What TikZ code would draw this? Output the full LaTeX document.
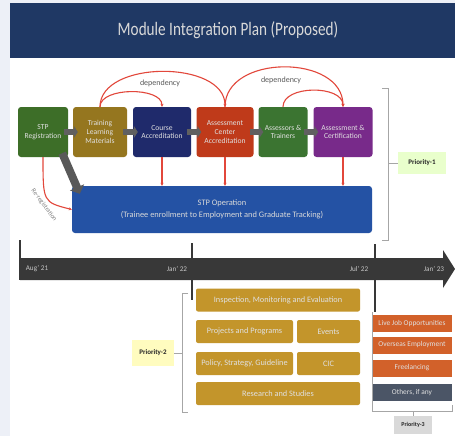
\documentclass[tikz,border=0pt]{standalone}
\usepackage{fontspec}
\setmainfont{Carlito}
\usepackage{tikz}
\usetikzlibrary{arrows.meta}
\definecolor{titleblue}{HTML}{1F3864}
\definecolor{pagebg}{HTML}{EDF0F7}
\definecolor{reggreen}{HTML}{3D6E28}
\definecolor{tlmolive}{HTML}{95761F}
\definecolor{coursenavy}{HTML}{1F2A6B}
\definecolor{accred}{HTML}{BF3A1A}
\definecolor{trgreen}{HTML}{3B7431}
\definecolor{certpurple}{HTML}{782A8A}
\definecolor{opsblue}{HTML}{2452A4}
\definecolor{deped}{HTML}{E2473B}
\definecolor{gold}{HTML}{C3952B}
\definecolor{jobor}{HTML}{D2612A}
\definecolor{slate}{HTML}{4B5566}
\definecolor{tlbar}{HTML}{383838}

\begin{document}
\begin{tikzpicture}[x=1pt, y=-1pt,
  stage/.style={rounded corners=3pt, text=white!88!black, align=center,
    font=\fontsize{7.6}{8.6}\selectfont, minimum height=50pt, inner sep=0.5pt},
  chev/.style={line width=6pt, draw=gray!75!black,
    -{Triangle[length=4pt, width=12pt]}},
  dep/.style={draw=deped, line width=1.1pt},
  dtip/.style={-{Stealth[length=3pt, width=3pt]}},
  brk/.style={draw=gray!70, line width=0.8pt},
  prio/.style={font=\fontsize{7}{7}\bfseries, text=black!85, inner sep=2pt,
    minimum height=22pt, minimum width=42pt},
  task/.style={fill=gold, rounded corners=2pt, text=white!88!black,
    font=\fontsize{8.3}{9}\selectfont, minimum height=23pt},
  job/.style={fill=jobor, text=white!88!black,
    font=\fontsize{7.4}{7.4}\selectfont, minimum height=17pt, minimum width=80pt, inner sep=1pt},
  month/.style={text=white!78!black, font=\fontsize{7.2}{7.2}\selectfont},
  deplabel/.style={font=\fontsize{8}{8}\selectfont, text=black!65}
]
  \useasboundingbox (0,0) rectangle (455,436);
  % Page and title band
  \fill[pagebg] (0,0) rectangle (455,436);
  \fill[white] (10,58) rectangle (455,436);
  \fill[titleblue] (10,3) rectangle (455,58);
  \node[text=white!85!black, font=\fontsize{19}{19}\selectfont] (title) at (228,30)
    {\scalebox{0.8}[1]{Module Integration Plan (Proposed)}};

  % Stages
  \node[stage, fill=reggreen, minimum width=50pt] (reg) at (43,132) {STP\\Registration};
  \node[stage, fill=tlmolive, minimum width=54pt] (tlm) at (100,132) {Training\\Learning\\Materials};
  \node[stage, fill=coursenavy, minimum width=58pt] (course) at (162,132) {Course\\Accreditation};
  \node[stage, fill=accred, minimum width=57pt] (acc) at (225,132) {Assessment\\Center\\Accreditation};
  \node[stage, fill=trgreen, minimum width=49pt] (trainers) at (283,132) {Assessors \&\\Trainers};
  \node[stage, fill=certpurple, minimum width=59pt] (cert) at (343,132) {Assessment \&\\Certification};
  \draw[chev] ([xshift=-4pt]reg.east) -- ([xshift=5pt]tlm.west);
  \draw[chev] ([xshift=-4pt]tlm.east) -- ([xshift=5pt]course.west);
  \draw[chev] ([xshift=-4pt]course.east) -- ([xshift=5pt]acc.west);
  \draw[chev] ([xshift=-4pt]acc.east) -- ([xshift=5pt]trainers.west);
  \draw[chev] ([xshift=-4pt]trainers.east) -- ([xshift=5pt]cert.west);

  % Operation
  \node[fill=opsblue, rounded corners=3pt, minimum width=300pt, minimum height=47pt,
    text=white!85!black, align=center, font=\fontsize{8.4}{12}\selectfont] (ops) at (222,209.5)
    {STP Operation\\(Trainee enrollment to Employment and Graduate Tracking)};

  % Dependencies
  \draw[dep, dtip] (tlm.north) .. controls +(0,-47) and +(0,-47) .. (acc.north);
  \draw[dep, dtip] (tlm.north) .. controls +(0,-20) and +(0,-20) .. (course.north);
  \draw[dep, dtip] (acc.north) .. controls +(0,-53) and +(0,-53) .. (cert.north);
  \draw[dep, dtip] (trainers.north) .. controls +(0,-22) and +(0,-22) .. (cert.north);
  \node[deplabel] (dep1) at (160,83) {dependency};
  \node[deplabel] (dep2) at (281,80) {dependency};
  \draw[dep, dtip] (course.south) -- (course.south |- ops.north);
  \draw[dep, dtip] (acc.south) -- (acc.south |- ops.north);
  \draw[dep, dtip] (cert.south) -- (cert.south |- ops.north);
  \draw[dep, dtip] (reg.south) .. controls +(0,45) .. (ops.west);
  \draw[line width=8pt, draw=black!65, -{Triangle[length=7pt, width=15pt]}]
    ([xshift=-6pt, yshift=4pt]reg.south east) -- ([xshift=8pt, yshift=-8pt]ops.north west);
  \node[rotate=-54, text=gray, font=\fontsize{6.5}{6.5}\selectfont] (rereg) at (44,205) {Re-registration};

  % Priority 1
  \node[prio, fill=green!25!lime!20, minimum width=48pt] (p1) at (422,163) {Priority-1};
  \draw[brk] (382,88) -- (388,88) -- (388,240) -- (382,240);
  \draw[brk] (388,163) -- (p1.west);

  % Timeline
  \fill[tlbar] (20,258) -- (443,258) -- (443,250) -- (455,269) -- (443,288) -- (443,280) -- (20,280) -- cycle;
  \draw[tlbar, line width=1.2pt] (20,240) -- (20,280);
  \draw[tlbar, line width=1.2pt] (192,243) -- (192,300);
  \draw[tlbar, line width=1.2pt] (375,244) -- (375,312);
  \node[month] (aug21) at (37,269) {Aug' 21};
  \node[month] (jan22) at (177,269) {Jan' 22};
  \node[month] (jul22) at (359,269) {Jul' 22};
  \node[month] (jan23) at (434,269) {Jan' 23};

  % Priority 2
  \node[task, minimum width=164pt] (ime) at (278,300) {Inspection, Monitoring and Evaluation};
  \node[task, minimum width=97pt] (proj) at (244.5,331.5) {Projects and Programs};
  \node[task, minimum width=63pt] (events) at (328.5,331.5) {Events};
  \node[task, minimum width=97pt] (policy) at (244.5,363.5) {Policy, Strategy, Guideline};
  \node[task, minimum width=63pt] (cic) at (328.5,363.5) {CIC};
  \node[task, minimum width=164pt] (research) at (278,393.5) {Research and Studies};
  \node[prio, fill=yellow!25, minimum height=26pt] (p2) at (153,353) {Priority-2};
  \draw[brk] (188,293) -- (182,293) -- (182,412) -- (188,412);
  \draw[brk] (p2.east) -- (182,353);

  % Priority 3
  \node[job] (live) at (412,323.5) {Live Job Opportunities};
  \node[job] (overseas) at (412,345) {Overseas Employment};
  \node[job] (freelance) at (412,368) {Freelancing};
  \node[job, fill=slate] (others) at (412,392.5) {Others, if any};
  \node[prio, fill=gray!30, minimum height=18pt, minimum width=38pt,
    font=\fontsize{6}{6}\bfseries] (p3) at (413,425) {Priority-3};
  \draw[brk] (372,312) -- (372,411) -- (452,411) -- (452,405);
  \draw[brk] (413,411) -- (p3.north);
\end{tikzpicture}
\end{document}
